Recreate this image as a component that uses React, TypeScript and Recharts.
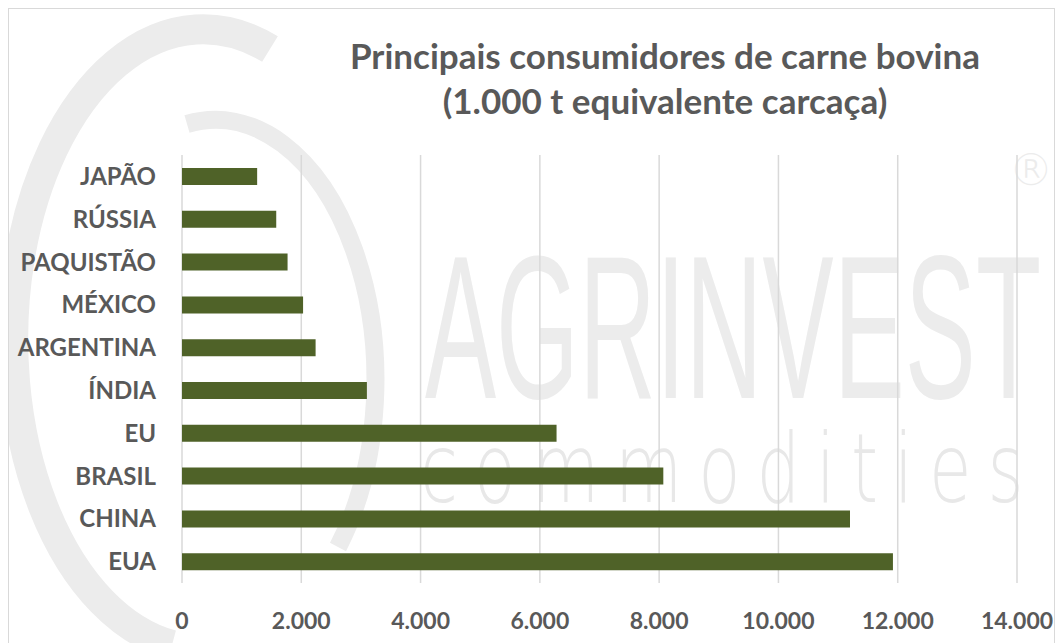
import { BarChart, Bar, XAxis, YAxis, CartesianGrid } from "recharts";

const categories = ["JAPÃO", "RÚSSIA", "PAQUISTÃO", "MÉXICO", "ARGENTINA", "ÍNDIA", "EU", "BRASIL", "CHINA", "EUA"];
const consumption = [1260, 1580, 1770, 2030, 2240, 3100, 6280, 8070, 11200, 11920];
const xTicks = [0, 2000, 4000, 6000, 8000, 10000, 12000, 14000];

const data = categories.map((name, i) => ({ name, value: consumption[i] }));

const fmt = (v: number) => String(v).replace(/\B(?=(\d{3})+(?!\d))/g, ".");

const FONT = "Lato, 'Open Sans', sans-serif";
const TEXT = "#595959";
const MARK = "#ECECEC";

// faint logo watermark behind the chart
const Watermark = () => (
  <svg width={1045} height={638} style={{ position: "absolute", left: 0, top: 0 }}>
    <path d="M 261 40 A 190 310 0 1 0 163 636" fill="none" stroke={MARK} strokeWidth={30} />
    <path d="M 178 115 A 160 260 0 0 1 329 538" fill="none" stroke={MARK} strokeWidth={18} />
    <text
      transform="translate(416 389) scale(0.52 1)"
      fontFamily="'Liberation Sans', Arial, sans-serif"
      fontSize={205}
      fill={MARK}
    >
      AGRINVEST
    </text>
    <text
      transform="translate(411 493) scale(0.72 1)"
      fontFamily="'DejaVu Sans', sans-serif"
      fontWeight={200}
      fontSize={96}
      letterSpacing={22}
      fill="#E8E8E8"
    >
      commodities
    </text>
    <text x={1000} y={176} fontFamily="'DejaVu Sans', sans-serif" fontWeight={200} fontSize={44} fill={MARK}>
      ®
    </text>
  </svg>
);

export default function App() {
  return (
    <div
      style={{
        position: "relative",
        width: 1047,
        height: 640,
        border: "1px solid #D9D9D9",
        boxSizing: "border-box",
        background: "#fff",
        overflow: "hidden",
        fontFamily: FONT,
      }}
    >
      <Watermark />

      <div
        style={{
          position: "absolute",
          left: 256,
          top: 24,
          width: 800,
          textAlign: "center",
          fontWeight: 700,
          fontSize: 35,
          lineHeight: "45px",
          color: TEXT,
        }}
      >
        Principais consumidores de carne bovina
        <br />
        (1.000 t equivalente carcaça)
      </div>

      <div style={{ position: "absolute", left: 0, top: 0 }}>
        <BarChart
          width={1045}
          height={632}
          data={data}
          layout="vertical"
          margin={{ top: 146, right: 37, bottom: 10, left: 0 }}
        >
          <CartesianGrid horizontal={false} stroke="#D9D9D9" strokeWidth={1.5} />
          <XAxis
            type="number"
            domain={[0, 14000]}
            ticks={xTicks}
            tickFormatter={fmt}
            axisLine={false}
            tickLine={false}
            tickSize={0}
            tickMargin={22}
            height={48}
            interval={0}
            tick={{ fill: TEXT, fontSize: 23, fontWeight: 700, fontFamily: FONT, dy: 8 }}
          />
          <YAxis
            type="category"
            dataKey="name"
            width={173}
            axisLine={false}
            tickLine={false}
            tickSize={0}
            tickMargin={26}
            interval={0}
            tick={{ fill: TEXT, fontSize: 24, fontWeight: 700, fontFamily: FONT }}
          />
          <Bar dataKey="value" fill="#4F6228" barSize={17} isAnimationActive={false} />
        </BarChart>
      </div>
    </div>
  );
}
